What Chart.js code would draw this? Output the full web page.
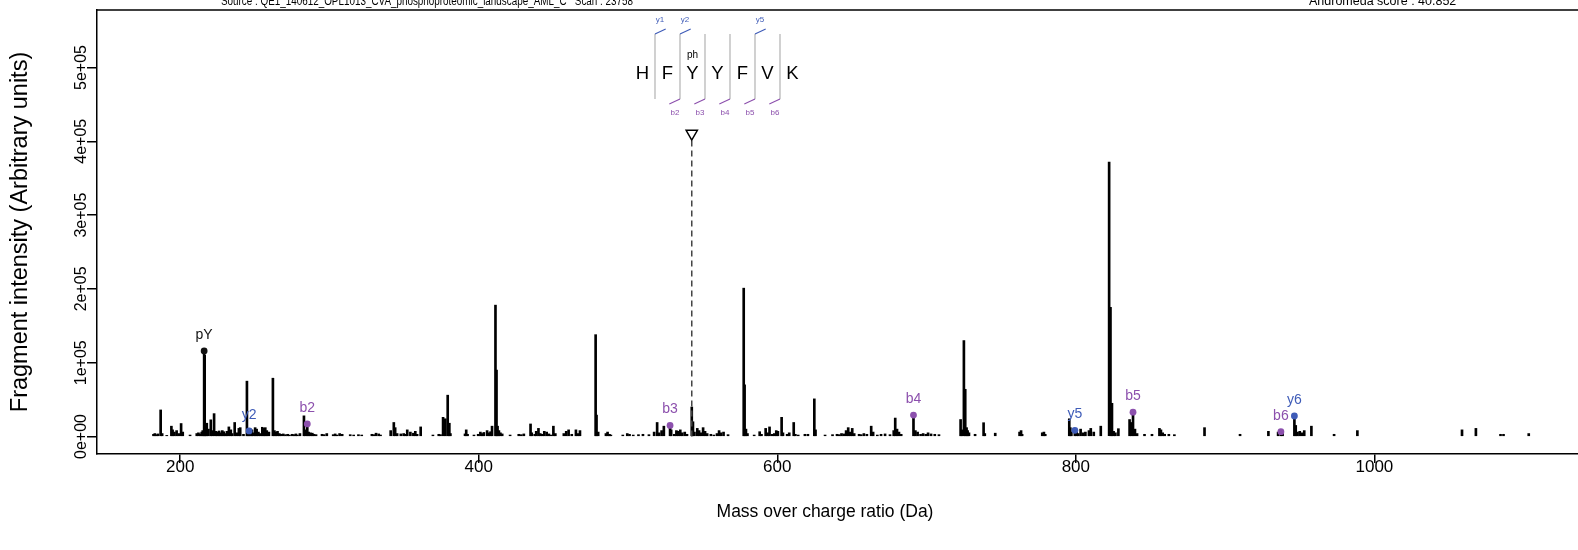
<!DOCTYPE html>
<html><head><meta charset="utf-8">
<script src="https://cdn.jsdelivr.net/npm/chart.js@4.4.1/dist/chart.umd.min.js"></script>
<style>html,body{margin:0;padding:0;background:#fff;overflow:hidden}canvas{display:block}</style>
</head><body>
<canvas id="c" width="1578" height="550"></canvas>
<script>
// ---------- DATA ----------
const peakMz = [182.1,183.0,184.1,185.1,186.9,187.9,191.0,194.1,194.9,196.1,197.6,199.1,200.6,201.7,206.6,211.1,212.2,213.3,214.4,215.1,216.4,217.0,217.8,218.9,220.5,221.4,222.7,224.0,224.9,226.1,227.0,228.2,229.1,230.3,231.3,232.6,233.9,234.8,236.5,238.0,239.3,240.2,242.4,244.7,245.3,247.0,248.1,249.0,250.2,251.2,252.4,253.6,255.0,256.0,257.0,258.0,259.4,262.1,263.1,264.0,265.2,266.4,267.5,269.0,270.5,272.0,273.2,275.0,276.3,277.5,278.5,280.2,282.9,283.7,286.0,287.2,288.5,289.6,291.0,295.0,296.4,298.2,302.5,303.8,305.0,306.8,308.5,313.9,316.2,319.4,321.6,328.4,329.6,331.2,333.0,334.2,341.0,343.1,344.0,345.3,347.8,349.7,351.0,352.1,354.2,356.2,357.5,358.7,361.1,369.3,373.2,374.4,376.1,377.6,379.2,380.3,381.0,390.8,391.6,392.5,396.8,399.6,401.1,402.3,403.4,405.6,406.9,407.9,408.9,411.2,411.9,412.6,413.5,414.5,415.7,421.0,426.8,428.5,430.2,434.7,435.5,437.5,438.5,440.0,441.2,442.6,443.9,445.5,447.0,448.3,450.0,451.3,457.0,458.6,460.2,462.3,465.1,466.3,467.8,478.3,478.9,480.0,485.2,486.3,487.6,488.5,496.5,499.5,501.0,503.5,507.0,510.0,514.0,517.5,519.5,520.8,522.5,524.0,528.9,531.0,532.4,533.6,535.0,536.3,538.0,539.5,542.7,543.5,544.5,546.4,547.6,548.9,550.3,551.6,553.0,555.5,557.5,559.6,561.0,562.3,564.0,567.0,577.5,578.1,579.0,580.0,584.5,588.2,589.4,592.2,593.5,594.8,596.5,598.0,599.3,600.4,602.9,603.8,606.6,608.0,611.0,612.1,614.0,618.5,620.5,624.8,625.6,632.0,637.0,640.0,641.5,643.0,644.5,646.1,647.5,648.9,650.2,651.5,654.8,656.2,658.0,660.0,662.9,664.2,667.0,669.5,672.2,675.5,678.0,679.0,680.2,681.5,683.0,692.5,694.0,696.0,697.7,699.5,701.0,703.0,705.5,708.3,722.8,723.6,725.0,725.9,726.8,727.5,728.4,732.5,738.2,739.0,746.0,762.3,763.3,764.0,777.5,778.6,779.5,795.6,796.3,797.0,800.5,801.6,803.2,805.0,806.4,808.8,810.0,812.0,816.7,822.3,823.2,824.2,825.3,826.5,828.5,836.0,837.0,839.6,841.0,846.0,851.0,856.0,857.0,858.2,859.5,862.3,866.0,886.2,910.0,929.0,935.5,938.5,947.3,948.5,950.0,951.5,953.0,957.8,973.0,988.6,1058.7,1068.0,1084.5,1086.5,1103.4];
const peakIntensity = [3000,4000,2500,3500,36000,4000,1500,14000,9000,6000,8000,4000,17600,6000,2000,4000,5000,3500,6000,8000,110000,14000,18000,10000,22600,8000,31000,7000,6000,7500,5000,8000,6500,4000,7000,13000,9000,4000,19000,5000,11000,12000,3000,75000,8000,10000,9000,5000,12000,10000,6000,4000,12500,11000,12000,8000,6000,79000,8000,6000,7000,4000,3000,3500,2500,3000,2000,3000,2500,3500,2000,4000,28000,9000,6000,5000,4500,3000,2500,3000,2500,4000,2500,3500,2000,4000,3000,2500,2000,2500,2000,3000,2500,4500,3500,2000,8000,19000,12000,4000,3500,4000,3000,9000,6000,4500,7000,3000,13000,2000,3000,2500,26000,24000,56000,18000,4000,3500,9000,3000,2000,3000,6000,4000,5500,8000,5000,6500,14000,178000,90000,14000,8000,5000,3500,2000,3000,2500,3500,17000,5000,3000,7000,11000,4000,3000,7000,6000,3500,2000,14000,4000,4000,7000,9000,3000,9000,4000,8000,138000,29000,6000,4000,6000,3000,2000,2000,4000,3000,2000,2500,3000,2500,6000,19000,5000,8000,14000,9000,3000,8000,7000,9000,5000,6000,3000,40000,20000,6000,11000,8000,5000,12000,7000,4000,3000,2000,4000,8000,5000,6000,2500,201000,70000,10000,4000,2000,6500,3000,11000,5000,13000,3000,4000,8000,7000,26000,5000,3000,5000,19000,3000,2000,3000,3000,51000,9000,2000,2500,3000,2500,4000,3500,8000,12000,6000,11000,4000,3000,2500,4000,3000,14000,6000,2000,3000,3500,2500,8000,25000,10000,6000,3000,8000,6000,3000,4000,3000,5000,3500,3000,2500,23000,9000,130000,64000,12000,8000,5000,3000,18700,4000,4500,6000,8000,3000,5000,6000,3000,24000,12000,6000,6000,4000,10000,5000,6000,8000,11000,6000,14000,372000,175000,45000,7000,5000,10600,23000,19000,10000,4000,3000,3000,11000,9000,5000,3000,3000,2500,12000,3000,7000,6000,5000,15000,6000,7000,5000,8000,14000,3000,8000,9000,11000,3000,3000,4000];

const ionLabels = ['pY','y2','b2','b3','b4','y5','b5','b6','y6'];
const ionSeries = ['imm','y','b','b','b','y','b','b','y'];
const ionMz = [216.04,246.18,285.13,528.16,691.23,799.34,838.30,937.37,946.41];
const ionIntensity = [116000,7600,17000,15000,29000,8400,33000,6500,27800];

const precursorMz = 542.7;
const precursorLineTop = 401000;
const precursorMarker = 410500;

const xTickValues = [200,400,600,800,1000];
const xTickLabels = ['200','400','600','800','1000'];
const yTickValues = [0,100000,200000,300000,400000,500000];
const yTickLabels = ['0e+00','1e+05','2e+05','3e+05','4e+05','5e+05'];

const residues = ['H','F','Y','Y','F','V','K'];
const residueMods = ['','','ph','','','',''];
const yMarkSites = [1,2,5];
const yMarkLabels = ['y1','y2','y5'];
const bMarkSites = [2,3,4,5,6];
const bMarkLabels = ['b2','b3','b4','b5','b6'];

const sourceText = 'Source : QE1_140612_OPL1013_CVA_phosphoproteomic_landscape_AML_C   Scan : 23758';
const scoreText = 'Andromeda score : 40.852';
const xTitle = 'Mass over charge ratio (Da)';
const yTitle = 'Fragment intensity (Arbitrary units)';

// ---------- STYLE ----------
const FONT = '"Liberation Sans", Arial, Helvetica, sans-serif';
const BLUE = '#3f5cb8';
const PURPLE = '#8c50ad';
const seriesColor = s => s === 'y' ? BLUE : (s === 'b' ? PURPLE : '#111');

const peakData = peakMz.map((m,i)=>({x:m,y:peakIntensity[i]}))
  .concat(ionMz.map((m,i)=>({x:m,y:ionIntensity[i]})));

const annot = {
  id:'annot',
  afterDraw(chart){
    const {ctx, chartArea:a, scales:{x,y}} = chart;
    ctx.save();
    // top frame line
    ctx.strokeStyle='#000'; ctx.lineWidth=1.5;
    ctx.beginPath(); ctx.moveTo(a.left, a.top); ctx.lineTo(chart.width, a.top); ctx.stroke();

    // ion labels
    ctx.font = '14px '+FONT; ctx.textAlign='center'; ctx.textBaseline='middle';
    ionLabels.forEach((l,i)=>{
      ctx.fillStyle = seriesColor(ionSeries[i]);
      ctx.fillText(l, x.getPixelForValue(ionMz[i]), y.getPixelForValue(ionIntensity[i]) - 16);
    });

    // x tick labels
    ctx.fillStyle='#000'; ctx.font='17px '+FONT;
    xTickValues.forEach((v,i)=> ctx.fillText(xTickLabels[i], x.getPixelForValue(v), 467));
    // y tick labels (rotated)
    ctx.font='16px '+FONT;
    yTickValues.forEach((v,i)=>{
      ctx.save(); ctx.translate(81.5, y.getPixelForValue(v)); ctx.rotate(-Math.PI/2);
      ctx.fillText(yTickLabels[i],0,0); ctx.restore();
    });
    // axis titles
    ctx.font='17.5px '+FONT;
    ctx.fillText(xTitle, 825, 512);
    ctx.font='23.5px '+FONT;
    ctx.save(); ctx.translate(21, (a.top+a.bottom)/2); ctx.rotate(-Math.PI/2);
    ctx.fillText(yTitle,0,0); ctx.restore();

    // header texts
    ctx.textBaseline='alphabetic'; ctx.textAlign='left';
    ctx.font='12.5px '+FONT;
    let w = ctx.measureText(sourceText).width;
    ctx.save(); ctx.translate(221,5); ctx.scale(412/w,1); ctx.fillText(sourceText,0,0); ctx.restore();
    ctx.fillText(scoreText, 1309, 5);

    // peptide sequence annotation
    const seqX0 = 642.5, step = 25, letterY = 74, sepTop = 34, sepBot = 99;
    ctx.textAlign='center'; ctx.textBaseline='middle';
    ctx.strokeStyle='#bdbdbd'; ctx.lineWidth=1.4;
    for (let j=1;j<residues.length;j++){
      const sx = seqX0 + step*(j-0.5);
      ctx.beginPath(); ctx.moveTo(sx,sepTop); ctx.lineTo(sx,sepBot); ctx.stroke();
    }
    ctx.fillStyle='#000'; ctx.font='18.5px '+FONT;
    residues.forEach((r,i)=> ctx.fillText(r, seqX0+step*i, letterY));
    ctx.font='10px '+FONT;
    residueMods.forEach((m,i)=>{ if(m) ctx.fillText(m, seqX0+step*i, 55); });
    ctx.lineWidth=1.2; ctx.font='8px '+FONT;
    yMarkSites.forEach((s,k)=>{
      const sx = seqX0 + step*(s-0.5);
      ctx.strokeStyle=BLUE; ctx.fillStyle=BLUE;
      ctx.beginPath(); ctx.moveTo(sx,sepTop); ctx.lineTo(sx+10.7,sepTop-5); ctx.stroke();
      ctx.fillText(yMarkLabels[k], sx+5, 20);
    });
    bMarkSites.forEach((s,k)=>{
      const sx = seqX0 + step*(s-0.5);
      ctx.strokeStyle=PURPLE; ctx.fillStyle=PURPLE;
      ctx.beginPath(); ctx.moveTo(sx,sepBot); ctx.lineTo(sx-10.7,sepBot+5); ctx.stroke();
      ctx.fillText(bMarkLabels[k], sx-5, 113);
    });
    ctx.restore();
  }
};

new Chart(document.getElementById('c'), {
  type:'bar',
  data:{datasets:[
    {type:'scatter', order:0, data: ionMz.map((m,i)=>({x:m,y:ionIntensity[i]})),
      pointRadius:3.4, pointBorderWidth:0,
      pointBackgroundColor: ionSeries.map(seriesColor)},
    {type:'scatter', order:1, data:[{x:precursorMz,y:precursorMarker}],
      pointStyle:'triangle', rotation:180, pointRadius:6.5, pointBorderWidth:1.5,
      pointBorderColor:'#000', pointBackgroundColor:'rgba(0,0,0,0)'},
    {type:'line', order:2, data:[{x:precursorMz,y:0},{x:precursorMz,y:precursorLineTop}],
      borderColor:'#444', borderWidth:1.5, borderDash:[6,4], pointRadius:0, fill:false},
    {type:'bar', order:3, data: peakData, backgroundColor:'#000', borderWidth:0, barThickness:2}
  ]},
  options:{
    responsive:false, animation:false,
    layout:{autoPadding:false, padding:{top:10,left:0,right:0,bottom:0}},
    plugins:{legend:{display:false}, tooltip:{enabled:false}},
    scales:{
      x:{type:'linear', min:144.26, max:1136.4, offset:false,
        afterBuildTicks:s=>{ s.ticks = xTickValues.map(v=>({value:v})); },
        afterFit:s=>{ s.height = 96; },
        ticks:{display:false},
        grid:{display:true, offset:false, drawOnChartArea:false, drawTicks:true, tickLength:9, color:'#000', lineWidth:1.5},
        border:{display:true, color:'#000', width:1.5}},
      y:{type:'linear', min:-23700, max:577900,
        afterBuildTicks:s=>{ s.ticks = yTickValues.map(v=>({value:v})); },
        afterFit:s=>{ s.width = 97; },
        ticks:{display:false},
        grid:{display:true, offset:false, drawOnChartArea:false, drawTicks:true, tickLength:10, color:'#000', lineWidth:1.5},
        border:{display:true, color:'#000', width:1.5}}
    }
  },
  plugins:[annot]
});
</script>
</body></html>
